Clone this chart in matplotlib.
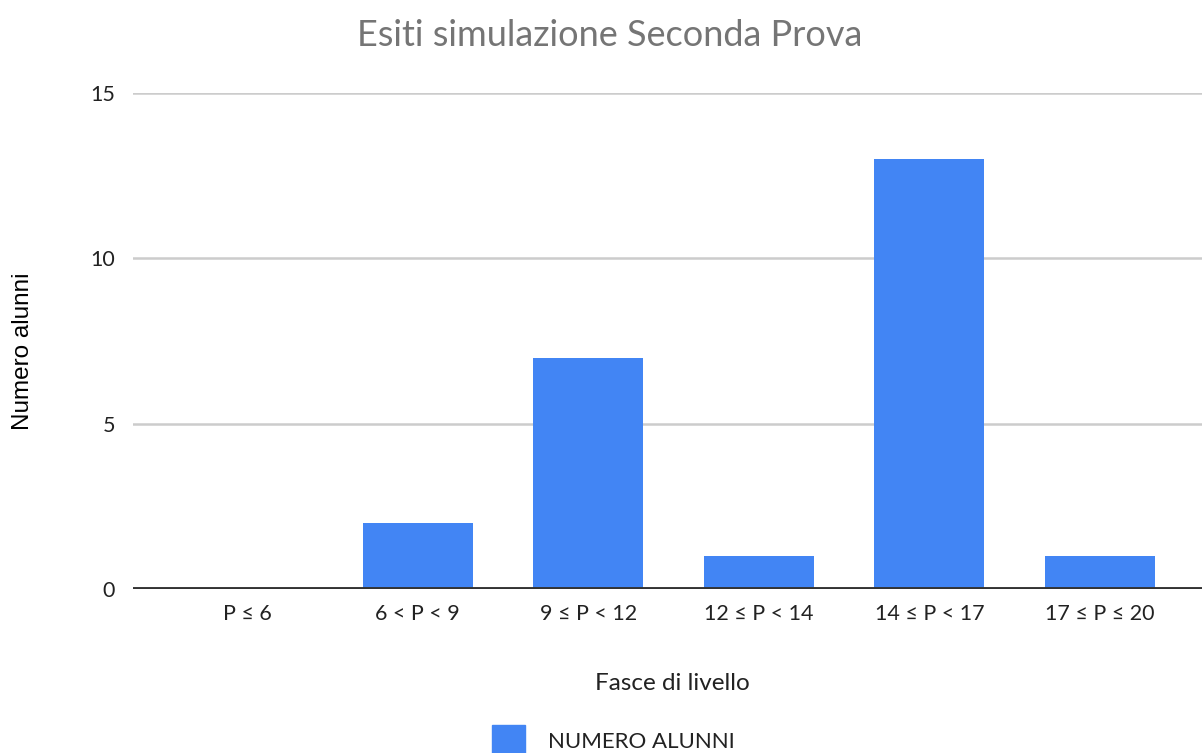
import matplotlib
matplotlib.use('Agg')
import matplotlib.pyplot as plt
from matplotlib.patches import Rectangle

fasce = ['P ≤ 6', '6 < P < 9', '9 ≤ P < 12', '12 ≤ P < 14', '14 ≤ P < 17', '17 ≤ P ≤ 20']
numero_alunni = [0, 2, 7, 1, 13, 1]
y_ticks = [0, 5, 10, 15]

BLUE = '#4285F4'
FONT = ['Lato', 'DejaVu Sans']

plt.rcParams['font.family'] = FONT

fig = plt.figure(figsize=(12.02, 7.53), dpi=100)
ax = fig.add_axes([0.1107, 0.2178, 0.8893, 0.6587])

ax.bar(range(len(fasce)), numero_alunni, width=0.645, color=BLUE, zorder=3)

ax.set_xlim(-0.668, 5.598)
ax.set_ylim(0, 15)
ax.set_yticks(y_ticks)
ax.set_xticks(range(len(fasce)))
ax.set_xticklabels(fasce)
ax.yaxis.grid(True, color='#cccccc', linewidth=1.8, zorder=0)
ax.axhline(0, color='#333333', linewidth=2.8, zorder=4)
ax.tick_params(axis='both', length=0, labelsize=15.5, colors='#222222')
ax.tick_params(axis='x', pad=11)
ax.tick_params(axis='y', pad=13)
for s in ax.spines.values():
    s.set_visible(False)

fig.text(0.507, 0.953, 'Esiti simulazione Seconda Prova', ha='center', va='center',
         fontsize=26, color='#757575')
fig.text(0.559, 0.092, 'Fasce di livello', ha='center', va='center',
         fontsize=17.5, color='#222222')
fig.text(0.019, 0.533, 'Numero alunni', ha='center', va='center', rotation=90,
         fontsize=17.5, color='#000000', family=['Liberation Sans', 'DejaVu Sans'])

# legend at the bottom, partly cut like the original
fig.patches.append(Rectangle((492 / 1202, 0), 33 / 1202, 28 / 753, transform=fig.transFigure,
                             color=BLUE, figure=fig))
fig.text(548 / 1202, 0.014, 'NUMERO ALUNNI', ha='left', va='center', fontsize=16, color='#222222')

fig.savefig('out.png', dpi=100)
